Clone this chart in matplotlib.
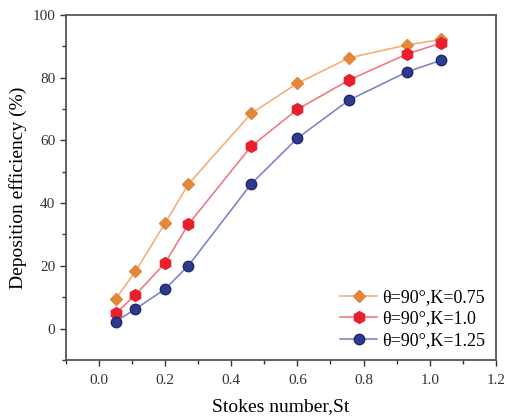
import matplotlib
matplotlib.use("Agg")
import matplotlib.pyplot as plt
from matplotlib.ticker import MultipleLocator

plt.rcParams['font.family'] = ['Liberation Serif', 'DejaVu Serif']

st = [0.05, 0.11, 0.2, 0.27, 0.46, 0.6, 0.755, 0.93, 1.035]
eff_k075 = [9.4, 18.2, 33.6, 46.0, 68.6, 78.2, 86.3, 90.4, 92.2]
eff_k10 = [4.8, 10.7, 20.9, 33.2, 58.1, 69.9, 79.2, 87.5, 91.1]
eff_k125 = [2.2, 6.2, 12.6, 20.0, 46.1, 60.7, 72.8, 81.8, 85.6]
labels = ["θ=90°,K=0.75", "θ=90°,K=1.0", "θ=90°,K=1.25"]

fig = plt.figure(figsize=(5.07, 4.17), dpi=100)
ax = fig.add_axes([0.130, 0.137, 0.848, 0.827])

ax.plot(st, eff_k075, color="#F5B07A", lw=1.2, marker="D", ms=6.5,
        mfc="#E3873A", mec="#E3873A", label=labels[0])
ax.plot(st, eff_k10, color="#F27A82", lw=1.2, marker="h", ms=8.5,
        mfc="#E8202C", mec="#E8202C", label=labels[1])
ax.plot(st, eff_k125, color="#7F86C6", lw=1.2, marker="o", ms=7.5,
        mfc="#2E3A8E", mec="#1E2870", label=labels[2])

ax.set_xlim(-0.1, 1.2)
ax.set_ylim(-10, 100)
ax.xaxis.set_major_locator(MultipleLocator(0.2))
ax.xaxis.set_minor_locator(MultipleLocator(0.1))
ax.yaxis.set_major_locator(MultipleLocator(20))
ax.yaxis.set_minor_locator(MultipleLocator(10))
ax.tick_params(which="major", direction="out", length=4, width=1, labelsize=11, colors="#333333")
ax.tick_params(axis="x", which="major", pad=6)
ax.tick_params(which="minor", direction="out", length=3, width=1, colors="#333333")
for s in ax.spines.values():
    s.set_color("#555555")
    s.set_linewidth(1.3)

ax.set_xlabel("Stokes number,St", fontsize=14, labelpad=8)
ax.set_ylabel("Deposition efficiency (%)", fontsize=14, labelpad=4)

ax.legend(loc="lower right", frameon=False, fontsize=13, handlelength=2.0,
          handletextpad=0.3, labelspacing=0.25, borderaxespad=0.2)

fig.savefig("out.png", dpi=100)
